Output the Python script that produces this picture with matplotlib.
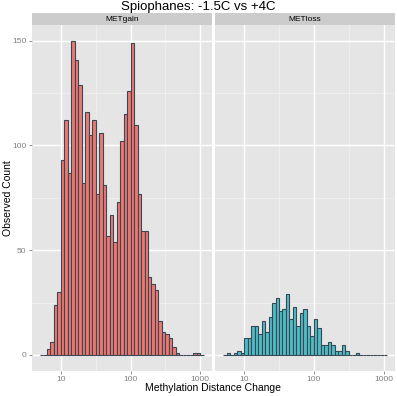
import matplotlib
matplotlib.use("Agg")
import matplotlib.pyplot as plt
import numpy as np

# histogram counts per log10 bin (bins of 0.05 starting at log10 = 0.70)
bin_start = 0.70
bin_width = 0.05
gain_counts = [0, 0, 3, 6, 24, 30, 93, 112, 87, 150, 141, 129, 82, 116, 105, 112,
               77, 106, 81, 57, 67, 54, 73, 102, 115, 126, 149, 110, 77, 59, 59,
               37, 34, 31, 16, 11, 10, 8, 4, 1, 0, 0, 0, 0, 1, 1, 0]
loss_counts = [0, 1, 0, 1, 2, 1, 8, 8, 14, 14, 10, 16, 11, 18, 25, 27,
               21, 22, 29, 17, 23, 14, 20, 22, 14, 9, 17, 13, 5, 5, 6,
               5, 2, 2, 5, 2, 0, 0, 1, 0, 0, 0, 0, 0, 0, 0, 0]
facets = ["METgain", "METloss"]
fills = ["#EE776E", "#4DBDC4"]

plt.rcParams['font.family'] = ['Liberation Sans', 'DejaVu Sans']

fig = plt.figure(figsize=(3.97, 3.96), dpi=100)
W, H = 397.0, 396.0
panel_top, panel_bot = 25.0, 370.7
lefts = [31.7, 215.0]
pw = 180.3

edges = 10 ** (bin_start + bin_width * np.arange(len(gain_counts) + 1))
lo_log = bin_start
hi_log = bin_start + bin_width * len(gain_counts)
pad = (hi_log - lo_log) * 0.05

for i, (name, counts, fc) in enumerate(zip(facets, [gain_counts, loss_counts], fills)):
    ax = fig.add_axes([lefts[i] / W, 1 - panel_bot / H, pw / W, (panel_bot - panel_top) / H])
    ax.set_facecolor('#E5E5E5')
    ax.set_xscale('log')
    ax.set_xlim(10 ** (lo_log - pad), 10 ** (hi_log + pad))
    ax.set_ylim(-7.5, 157.5)
    for s in ax.spines.values():
        s.set_visible(False)
    # grid
    for v in [10 ** 1.5, 10 ** 2.5]:
        ax.axvline(v, color='#F2F2F2', lw=0.5, zorder=0)
    for v in [25, 75, 125]:
        ax.axhline(v, color='#F2F2F2', lw=0.5, zorder=0)
    for v in [10, 100, 1000]:
        ax.axvline(v, color='white', lw=1.0, zorder=0)
    for v in [0, 50, 100, 150]:
        ax.axhline(v, color='white', lw=1.0, zorder=0)

    ax.bar(edges[:-1], counts, width=np.diff(edges), align='edge',
           color=fc, edgecolor='#3A4756', linewidth=0.8, zorder=2)

    ax.set_xticks([10, 100, 1000])
    ax.set_xticklabels(['10', '100', '1000'])
    ax.xaxis.set_minor_locator(matplotlib.ticker.NullLocator())
    ax.set_yticks([0, 50, 100, 150])
    ax.tick_params(colors='#7F7F7F', labelsize=6, length=2.5, width=0.6, pad=1.5)
    if i == 0:
        ax.set_yticklabels(['0', '50', '100', '150'])
    else:
        ax.tick_params(axis='y', left=False, labelleft=False)

    # strip
    sax = fig.add_axes([lefts[i] / W, 1 - panel_top / H, pw / W, 11.7 / H])
    sax.set_facecolor('#CCCCCC')
    sax.set_xticks([])
    sax.set_yticks([])
    for s in sax.spines.values():
        s.set_visible(False)
    sax.text(0.5, 0.5, name, ha='center', va='center', fontsize=6, transform=sax.transAxes)

fig.text(0.5, 1 - 7.0 / H, 'Spiophanes: -1.5C vs +4C', ha='center', va='center', fontsize=9.5)
fig.text((lefts[0] + lefts[1] + pw) / 2 / W, 1 - 388 / H, 'Methylation Distance Change',
         ha='center', va='center', fontsize=7.5)
fig.text(8 / W, 1 - (panel_top + panel_bot) / 2 / H, 'Observed Count', rotation=90,
         ha='center', va='center', fontsize=7.5)

fig.savefig('out.png', dpi=100)
